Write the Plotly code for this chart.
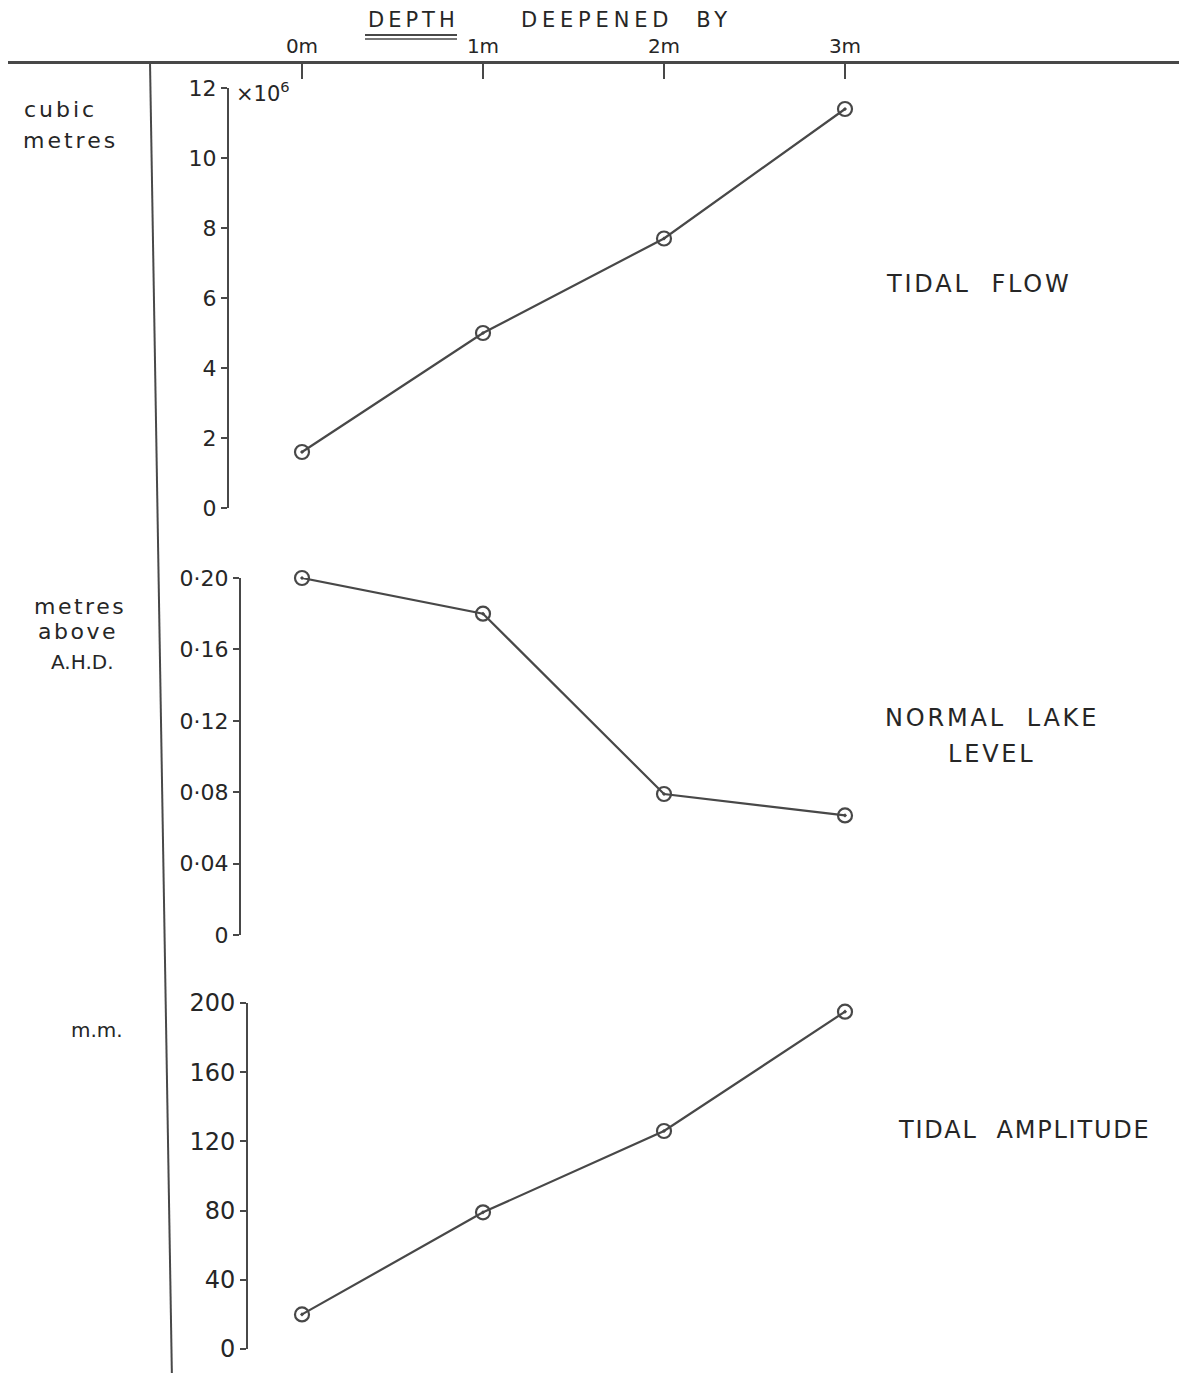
import plotly.graph_objects as go

# page body has an 8px margin; keep the figure inside the window
OFF = 8
W, H = 1187 - 2 * OFF, 1381 - 2 * OFF

depth = [0, 1, 2, 3]
depth_labels = ["0m", "1m", "2m", "3m"]

tidal_flow = [1.6, 5.0, 7.7, 11.4]          # x10^6 cubic metres
lake_level = [0.20, 0.18, 0.079, 0.067]     # metres above A.H.D.
tidal_amp = [20, 79, 126, 195]              # mm

flow_ticks = [0, 2, 4, 6, 8, 10, 12]
level_ticks = [0, 0.04, 0.08, 0.12, 0.16, 0.20]
level_ticktext = ["0", "0·04", "0·08", "0·12", "0·16", "0·20"]
amp_ticks = [0, 40, 80, 120, 160, 200]

INK = "#262626"
LINE = "#484848"
FONT = "DejaVu Sans"

def px(x):
    return (x - OFF) / W

def py(y):
    return 1 - (y - OFF) / H

# x axis: data 0 -> px 302, data 3 -> px 845 (reference pixels)
x0px, x3px = 302, 845
scale = (x3px - x0px) / 3.0

fig = go.Figure()

marker = dict(symbol="circle-open-dot", size=14, color=LINE, line=dict(width=2.2, color=LINE))

for ys, ax in [(tidal_flow, "y"), (lake_level, "y2"), (tidal_amp, "y3")]:
    fig.add_trace(go.Scatter(x=depth, y=ys, mode="lines+markers", xaxis="x", yaxis=ax,
                             line=dict(color=LINE, width=2.2), marker=marker, cliponaxis=False,
                             showlegend=False, hoverinfo="skip"))

def yax(size):
    return dict(showgrid=False, zeroline=False, showline=True, linecolor=LINE, linewidth=2,
                ticks="outside", ticklen=6, tickwidth=2, tickcolor=LINE,
                tickfont=dict(family=FONT, size=size, color=INK), anchor="free", side="left",
                fixedrange=True)

fig.update_layout(
    width=W, height=H,
    margin=dict(l=0, r=0, t=0, b=0, autoexpand=False),
    paper_bgcolor="white", plot_bgcolor="rgba(0,0,0,0)",
    showlegend=False,
    xaxis=dict(domain=[0, 1], range=[(OFF - x0px) / scale, (W + OFF - x0px) / scale],
               anchor="free", position=py(62), side="top",
               showgrid=False, zeroline=False, showline=True, linecolor=LINE, linewidth=2.5,
               tickmode="array", tickvals=depth, ticktext=depth_labels,
               ticks="inside", ticklen=15, tickwidth=2, tickcolor=LINE,
               tickfont=dict(family=FONT, size=20, color=INK), fixedrange=True),
    yaxis=dict(domain=[py(508), py(88)], range=[0, 12], position=px(228),
               tickmode="array", tickvals=flow_ticks, ticktext=[str(t) for t in flow_ticks],
               **yax(22)),
    yaxis2=dict(domain=[py(935), py(578)], range=[0, 0.20], position=px(240),
                tickmode="array", tickvals=level_ticks, ticktext=level_ticktext,
                **yax(22)),
    yaxis3=dict(domain=[py(1349), py(1003)], range=[0, 200], position=px(247),
                tickmode="array", tickvals=amp_ticks, ticktext=[str(t) for t in amp_ticks],
                **yax(24)),
)

# frame line of the drawing
fig.add_shape(type="line", xref="paper", yref="paper", x0=px(150), y0=py(62), x1=px(172), y1=py(1381),
              line=dict(color=LINE, width=2))
# double underline of DEPTH
fig.add_shape(type="line", xref="paper", yref="paper", x0=px(365), y0=py(35), x1=px(457), y1=py(35),
              line=dict(color=LINE, width=2))
fig.add_shape(type="line", xref="paper", yref="paper", x0=px(365), y0=py(39), x1=px(457), y1=py(39),
              line=dict(color=LINE, width=1.5))

def note(text, x, y, size=21, xanchor="center", spacing=0):
    if spacing:
        text = f"<span style='letter-spacing:{spacing}px'>{text}</span>"
    fig.add_annotation(text=text, x=px(x), y=py(y), xref="paper", yref="paper",
                       showarrow=False, xanchor=xanchor, yanchor="middle",
                       font=dict(family=FONT, size=size, color=INK))

note("DEPTH", 413, 20, size=21, spacing=4)
note("DEEPENED  BY", 626, 20, size=21, spacing=4.8)
note("×10<sup>6</sup>", 234, 92, size=21, xanchor="left")

note("cubic", 60, 110, size=22, spacing=3)
note("metres", 70, 141, size=22, spacing=3)
note("metres", 80, 606, size=22, spacing=2.5)
note("above", 78, 632, size=22, spacing=2.5)
note("A.H.D.", 83, 662, size=20)
note("m.m.", 97, 1030, size=20)

note("TIDAL  FLOW", 979, 284, size=24, spacing=2.8)
note("NORMAL  LAKE", 992, 718, size=24, spacing=2.8)
note("LEVEL", 992, 754, size=24, spacing=2.8)
note("TIDAL  AMPLITUDE", 1024, 1130, size=24, spacing=1.8)

fig.write_html("out.html")
